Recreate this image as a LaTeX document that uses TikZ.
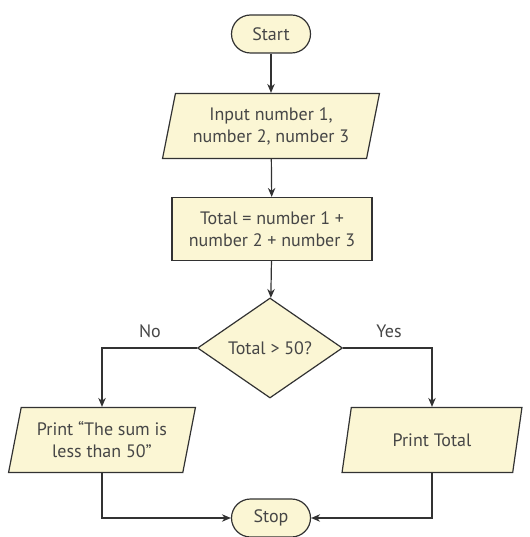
\documentclass[tikz,border=0pt]{standalone}
\usepackage{fontspec}
\setmainfont{PT Sans}
\usepackage{tikz}
\usetikzlibrary{shapes.geometric, arrows.meta}
\usepackage{xcolor}

\definecolor{boxfill}{RGB}{251,246,212}
\definecolor{edge}{RGB}{50,50,50}
\definecolor{ink}{RGB}{70,70,70}

\tikzset{
    base/.style={draw=edge, fill=boxfill, line width=1.2pt, text=ink, align=center,
        font=\fontsize{18}{22}\selectfont},
    terminal/.style={base, rectangle, rounded corners=19pt, minimum width=79pt, minimum height=38pt},
    process/.style={base, rectangle, minimum width=200pt, minimum height=63pt},
    io/.style={base, trapezium, trapezium left angle=76, trapezium right angle=104,
        trapezium stretches=true, minimum height=65pt},
    decision/.style={base, diamond, minimum width=145pt, minimum height=100pt, inner sep=0pt},
    arrow/.style={draw=edge, line width=1.2pt, -{Stealth[length=9pt,width=7.5pt]}},
    label/.style={text=ink, font=\fontsize{18}{22}\selectfont}
}

\begin{document}
\begin{tikzpicture}[x=1pt, y=-1pt]
        \useasboundingbox (0,0) rectangle (529,537);

        % Main column
        \node[terminal] (start) at (271, 34) {Start};
        \node[io, minimum width=217pt] (input) at (271, 126) {Input number 1,\\number 2, number 3};
        \node[process] (calc) at (272, 229) {Total = number 1 +\\number 2 + number 3};
        \node[decision] (test) at (270, 348) {Total > 50?};

        % The two branches
        \node[io, minimum width=187pt] (sumless) at (102, 440) {Print ``The sum is\\less than 50''};
        \node[io, minimum width=180pt] (printtot) at (432, 440) {Print Total};

        \node[terminal] (stop) at (271, 518) {Stop};

        % Branch labels
        \node[label] (nolbl) at (150, 331) {No};
        \node[label] (yeslbl) at (389, 331) {Yes};

        % Connect everything
        \draw[arrow] (start) -- (input);
        \draw[arrow] (input) -- (calc);
        \draw[arrow] (calc) -- (test);
        \draw[arrow] (test.west) -| (sumless);
        \draw[arrow] (test.east) -| (printtot);
        \draw[arrow] (sumless) |- (stop);
        \draw[arrow] (printtot) |- (stop);
    \end{tikzpicture}
\end{document}
